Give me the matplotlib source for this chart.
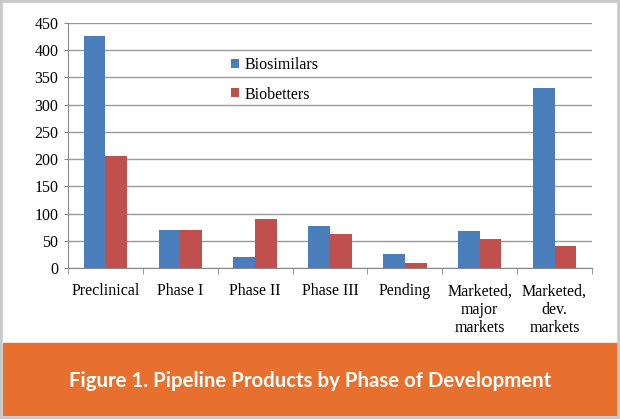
import matplotlib.pyplot as plt
import matplotlib.patches as mpatches
import numpy as np

categories = ['Preclinical', 'Phase I', 'Phase II', 'Phase III', 'Pending',
              'Marketed,\nmajor\nmarkets', 'Marketed,\ndev.\nmarkets']
biosimilars = [427, 70, 20, 77, 25, 68, 331]
biobetters = [205, 70, 90, 63, 10, 53, 40]
yticks = [0, 50, 100, 150, 200, 250, 300, 350, 400, 450]
title = 'Figure 1. Pipeline Products by Phase of Development'

plt.rcParams['font.family'] = 'serif'
plt.rcParams['font.serif'] = ['Liberation Serif', 'DejaVu Serif']

fig = plt.figure(figsize=(6.2, 4.19), dpi=100)
ax = fig.add_axes([68 / 620, 1 - 268 / 419, 524 / 620, 245 / 419])

x = np.arange(len(categories))
w = 0.29
ax.bar(x - w / 2, biosimilars, w, color='#4a7ebb', label='Biosimilars', zorder=3)
ax.bar(x + w / 2, biobetters, w, color='#c0504d', label='Biobetters', zorder=3)

ax.set_xlim(-0.5, len(categories) - 0.5)
ax.set_ylim(0, 450)
ax.set_yticks(yticks)
ax.yaxis.grid(True, color='#9a9a9a', linewidth=1.0, zorder=0)
ax.tick_params(axis='y', labelsize=11.5, length=3, color='#888888', pad=4)

ax.set_xticks(x)
ax.set_xticklabels(categories, fontsize=11.5, linespacing=1.2)
ax.tick_params(axis='x', length=0, pad=11)
ax.set_xticks(np.arange(-0.5, len(categories), 1), minor=True)
ax.tick_params(axis='x', which='minor', length=4, color='#888888')

for s in ['top', 'right']:
    ax.spines[s].set_visible(False)
ax.spines['left'].set_color('#888888')
ax.spines['bottom'].set_color('#888888')

ax.legend(loc='upper left', bbox_to_anchor=(0.283, 0.92), frameon=False,
          fontsize=11.5, handlelength=0.5, handleheight=0.5, handletextpad=0.4,
          labelspacing=0.85)

# orange caption banner
fig.patches.append(mpatches.Rectangle((3 / 620, 4 / 419), 614 / 620, 72 / 419,
                                      transform=fig.transFigure, color='#e8702e'))
fig.text(0.5, 1 - 381 / 419, title, ha='center', va='center', color='white',
         fontsize=14.7, fontweight='bold', family=['Lato', 'DejaVu Sans'])

# light grey frame
fig.patches.append(mpatches.Rectangle((0, 0), 1, 1, transform=fig.transFigure,
                                      fill=False, edgecolor='#c8c8c8', linewidth=4))

plt.savefig('out.png', dpi=100)
